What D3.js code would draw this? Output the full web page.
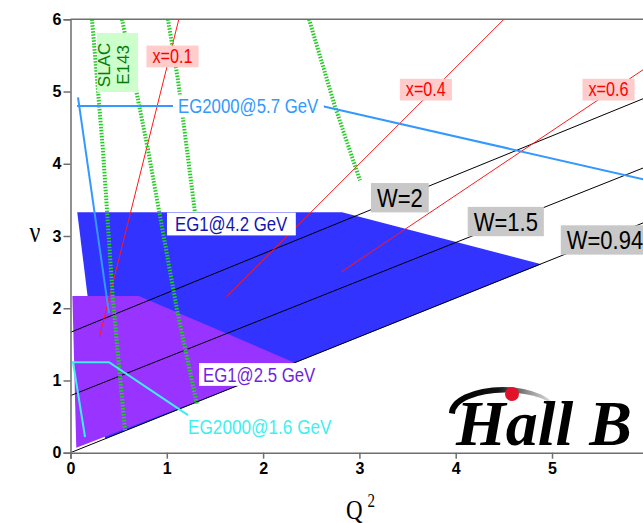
<!DOCTYPE html>
<html>
<head>
<meta charset="utf-8">
<script src="https://cdn.jsdelivr.net/npm/d3@7"></script>
<style>
  body { margin: 0; background: #fff; }
  svg { display: block; font-family: Arial, "Liberation Sans", sans-serif; }
</style>
</head>
<body>
<svg width="643" height="523"></svg>
<script>
// all points are [Q2, nu]

// W = const lines
var wNames = ["W=0.94", "W=1.5", "W=2"];
var wLines = [
  [[0, 0], [6, 3.21]],
  [[0, 0.79], [6, 3.97]],
  [[0, 1.667], [6, 4.93]]
];
var wLabelAt = [[5.55, 2.945], [4.52, 3.20], [3.42, 3.53]];

// x = const lines
var xNames = ["x=0.1", "x=0.4", "x=0.6"];
var xLines = [
  [[0.30, 1.60], [1.125, 6.0]],
  [[1.62, 2.16], [4.5, 6.0]],
  [[2.81, 2.50], [6.0, 5.35]]
];
var xLabelAt = [[1.059, 5.49], [3.69, 5.03], [5.587, 5.03]];

// EG1 coverage
var eg1High = [[0.07, 3.33], [2.82, 3.33], [4.89, 2.61], [0.36, 0.19]];
var eg1Low = [[0.02, 2.17], [0.71, 2.17], [2.34, 1.24], [0.06, 0.07]];

// EG2000 limits
var eg2000High = [
  [[0.40, 1.93], [0.078, 4.92]],
  [[0.068, 4.80], [2.61, 4.80], [6.0, 3.77]]
];
var eg2000Low = [[0.151, 0.217], [0.026, 1.252], [0.40, 1.252], [1.22, 0.52]];

// SLAC E143 lines
var slac = [
  [[0.223, 6.0], [0.337, 4.19], [0.441, 2.11], [0.566, 0.31]],
  [[0.535, 6.0], [0.805, 4.19], [1.106, 1.98], [1.314, 0.66]],
  [[1.012, 6.0], [1.116, 5.16], [1.210, 4.19], [1.293, 3.32]],
  [[2.477, 6.0], [2.747, 4.79], [3.006, 3.77]]
];

var xTicks = [0, 1, 2, 3, 4, 5];
var yTicks = [0, 1, 2, 3, 4, 5, 6];

var svg = d3.select("svg");
var x = d3.scaleLinear().domain([0, 6]).range([70.5, 648.3]);
var y = d3.scaleLinear().domain([0, 6]).range([452.7, 19.3]);
var line = d3.line().x(d => x(d[0])).y(d => y(d[1]));

var defs = svg.append("defs");
defs.append("clipPath").attr("id", "plot")
  .append("rect").attr("x", x(0)).attr("y", y(6))
  .attr("width", x(6) - x(0)).attr("height", y(0) - y(6));

var plot = svg.append("g").attr("clip-path", "url(#plot)");

// regions
plot.append("path").attr("d", line(eg1High) + "Z").attr("fill", "#3333ff");
plot.append("path").attr("d", line(eg1Low) + "Z").attr("fill", "#9933ff");

// W lines
plot.selectAll(".w").data(wLines).join("path")
  .attr("d", line).attr("fill", "none").attr("stroke", "#000").attr("stroke-width", 1);

// x lines
plot.selectAll(".x").data(xLines).join("path")
  .attr("d", line).attr("fill", "none").attr("stroke", "#ff1a1a").attr("stroke-width", 1);

// SLAC
plot.selectAll(".slac").data(slac).join("path")
  .attr("d", line).attr("fill", "none").attr("stroke", "#22cc22")
  .attr("stroke-width", 4).attr("stroke-dasharray", "1.5,1.5");

// EG2000
plot.selectAll(".eg2k").data(eg2000High).join("path")
  .attr("d", line).attr("fill", "none").attr("stroke", "#3399ff").attr("stroke-width", 2);
plot.append("path").attr("d", line(eg2000Low)).attr("fill", "none")
  .attr("stroke", "#3cf0f0").attr("stroke-width", 2);

// labels, text is stretched a bit vertically like the original
function addLabel(t, px, py, o) {
  var g = svg.append("g").attr("transform", "translate(" + px + "," + py + ") scale(1,1.2)");
  var r = g.append("rect").attr("fill", o.bg || "none");
  var tx = g.append("text").text(t)
    .attr("font-size", o.size).attr("fill", o.color)
    .attr("text-anchor", o.anchor || "middle").attr("dy", "0.35em");
  var b = tx.node().getBBox();
  r.attr("x", b.x - o.pad).attr("y", b.y)
    .attr("width", b.width + 2 * o.pad).attr("height", b.height);
}

wNames.forEach(function(n, i) {
  addLabel(n, x(wLabelAt[i][0]), y(wLabelAt[i][1]), {size: 22, color: "#000", bg: "#c8c8c8", pad: 6});
});
xNames.forEach(function(n, i) {
  addLabel(n, x(xLabelAt[i][0]), y(xLabelAt[i][1]), {size: 16.2, color: "#ff0000", bg: "#ffcccc", pad: 6});
});
addLabel("EG2000@5.7 GeV", x(1.116), y(4.80), {size: 16.8, color: "#3399ff", bg: "#fff", pad: 5, anchor: "start"});
addLabel("EG1@4.2 GeV", x(1.085), y(3.166), {size: 16.8, color: "#1414b4", bg: "#fff", pad: 8, anchor: "start"});
addLabel("EG1@2.5 GeV", x(1.376), y(1.083), {size: 16.8, color: "#6f1fe0", bg: "#fff", pad: 4, anchor: "start"});
addLabel("EG2000@1.6 GeV", x(1.22), y(0.356), {size: 17.2, color: "#3cf0f0", bg: "none", pad: 0, anchor: "start"});

// SLAC E143 tag
svg.append("rect").attr("x", 97).attr("y", 33).attr("width", 41).attr("height", 59).attr("fill", "#ccffcc");
svg.append("text").text("SLAC").attr("transform", "translate(110,65) rotate(-90)")
  .attr("text-anchor", "middle").attr("font-size", 17).attr("fill", "#0a7a0a");
svg.append("text").text("E143").attr("transform", "translate(129,65) rotate(-90)")
  .attr("text-anchor", "middle").attr("font-size", 17).attr("fill", "#0a7a0a");

// axes
var axisCol = "#6e6e6e";
var minor = d3.range(0, 30.5).map(d => d / 5);
var gx = svg.append("g").attr("transform", "translate(0," + y(0) + ")");
gx.call(d3.axisBottom(x).tickValues(minor).tickSize(3).tickFormat(""));
gx.call(d3.axisBottom(x).tickValues(xTicks).tickSize(6).tickPadding(4).tickFormat(d3.format("d")));
var gy = svg.append("g").attr("transform", "translate(" + x(0) + ",0)");
gy.call(d3.axisLeft(y).tickValues(minor).tickSize(3).tickFormat(""));
gy.call(d3.axisLeft(y).tickValues(yTicks).tickSize(7).tickPadding(2).tickFormat(d3.format("d")));
svg.selectAll(".domain, .tick line").attr("stroke", axisCol).attr("stroke-width", 1.5);
svg.selectAll(".tick text").attr("font-size", 16).attr("font-weight", "bold")
  .attr("font-family", "Arial, 'Liberation Sans', sans-serif").attr("fill", "#000");
svg.append("line").attr("x1", x(0)).attr("x2", 643).attr("y1", y(6)).attr("y2", y(6))
  .attr("stroke", axisCol).attr("stroke-width", 1.5);

// axis titles
svg.append("text").text("ν").attr("transform", "translate(35,242) scale(1,1.2)")
  .attr("text-anchor", "middle").attr("font-family", "'Liberation Serif', 'Times New Roman', serif").attr("font-size", 24);
var qt = svg.append("text").attr("transform", "translate(346,519) scale(1,1.2)")
  .attr("font-family", "'Liberation Serif', 'Times New Roman', serif").attr("font-size", 23);
qt.append("tspan").text("Q");
qt.append("tspan").text("2").attr("font-size", 15).attr("dx", 5).attr("dy", -10);

// Hall B logo
var sw = defs.append("linearGradient").attr("id", "sw").attr("x1", 0).attr("x2", 1).attr("y1", 0).attr("y2", 0);
sw.append("stop").attr("offset", 0).attr("stop-color", "#000");
sw.append("stop").attr("offset", 0.45).attr("stop-color", "#111");
sw.append("stop").attr("offset", 0.75).attr("stop-color", "#999");
sw.append("stop").attr("offset", 1).attr("stop-color", "#eee");
svg.append("path").attr("d", "M449,413 A54,26 0 0,1 557,413 A51,21 0 0,0 455,414 Z").attr("fill", "url(#sw)");
svg.append("text").text("Hall B").attr("x", 456).attr("y", 445)
  .attr("font-family", "'Liberation Serif', 'Times New Roman', serif")
  .attr("font-weight", "bold").attr("font-style", "italic").attr("font-size", 64)
  .attr("textLength", 176).attr("lengthAdjust", "spacingAndGlyphs");
svg.append("circle").attr("cx", 512).attr("cy", 394).attr("r", 7).attr("fill", "#e3122b");
</script>
</body>
</html>
